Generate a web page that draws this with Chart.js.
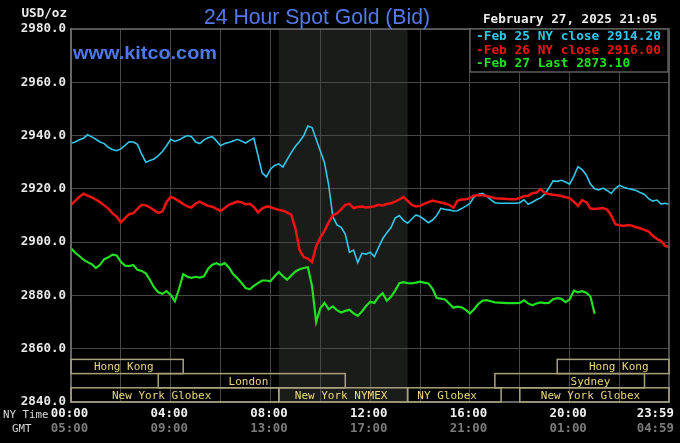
<!DOCTYPE html>
<html>
<head>
<meta charset="utf-8">
<title>24 Hour Spot Gold (Bid)</title>
<script src="https://cdn.jsdelivr.net/npm/chart.js@4/dist/chart.umd.min.js"></script>
<style>
    html, body { margin: 0; padding: 0; background: #000; }
    #chart { display: block; }
</style>
</head>
<body>
<canvas id="chart" width="680" height="443"></canvas>
<script>
// ===============================
// Data (one sample every 10 minutes, NY time)
// ===============================
const feb25 = [
    2937.1, 2937.6, 2938.4, 2939.0, 2940.3, 2939.5, 2938.6, 2937.6, 2937.0, 2935.5,
    2934.8, 2934.3, 2935.0, 2936.3, 2937.7, 2937.6, 2936.7, 2933.0, 2930.0, 2930.6,
    2931.2, 2932.5, 2934.0, 2936.2, 2938.6, 2937.8, 2938.4, 2939.3, 2940.0, 2939.6,
    2937.6, 2937.0, 2938.4, 2939.2, 2939.6, 2938.0, 2936.2, 2937.0, 2937.4, 2938.0,
    2938.6, 2938.0, 2937.2, 2938.2, 2939.0, 2932.5, 2926.0, 2924.5, 2927.4, 2928.8,
    2929.4, 2928.2, 2931.0, 2933.6, 2936.0, 2937.8, 2940.0, 2943.6, 2943.0, 2938.6,
    2934.2, 2929.8, 2921.5, 2909.6, 2906.5, 2905.6, 2903.0, 2896.2, 2897.0, 2892.3,
    2895.8, 2895.5, 2896.2, 2894.6, 2898.0, 2901.3, 2903.5, 2905.5, 2909.0, 2910.0,
    2908.2, 2907.1, 2908.7, 2910.2, 2909.6, 2908.5, 2907.3, 2908.3, 2910.0, 2912.7,
    2912.3, 2912.1, 2911.7, 2911.8, 2912.6, 2913.5, 2914.5, 2917.0, 2917.9, 2918.3,
    2917.4, 2916.0, 2914.8, 2914.6, 2914.6, 2914.6, 2914.6, 2914.6, 2914.8, 2915.9,
    2914.2, 2915.0, 2915.9, 2916.6, 2918.0, 2920.3, 2923.0, 2922.8, 2923.2, 2922.6,
    2921.8, 2924.8, 2928.3, 2927.2, 2925.2, 2921.8, 2920.0, 2919.6, 2920.3, 2919.4,
    2918.3, 2920.2, 2921.3, 2920.6, 2920.1, 2919.8, 2919.4, 2918.6, 2917.9, 2916.3,
    2915.4, 2915.8, 2914.3, 2914.6, 2914.2
];
const feb26 = [
    2914.0, 2915.5, 2917.0, 2918.2, 2917.5, 2916.8, 2916.0, 2915.0, 2913.8, 2912.6,
    2910.8, 2909.6, 2907.4, 2909.0, 2910.5, 2910.9, 2912.5, 2914.0, 2913.8, 2913.0,
    2912.0, 2911.0, 2911.5, 2915.0, 2917.0, 2916.3, 2915.4, 2914.3, 2913.4, 2913.0,
    2914.5, 2915.2, 2914.4, 2913.6, 2913.3, 2912.5, 2911.7, 2912.8, 2914.0, 2914.6,
    2915.2, 2915.0, 2914.2, 2914.4, 2913.2, 2911.2, 2912.6, 2913.4, 2913.2, 2912.6,
    2912.1, 2911.8, 2911.2, 2910.3, 2905.2, 2897.0, 2894.4, 2893.8, 2892.5, 2898.5,
    2901.7, 2904.2, 2907.4, 2910.0, 2910.8, 2912.3, 2914.0, 2914.4, 2912.8, 2913.2,
    2913.4, 2913.0, 2913.2, 2913.5, 2914.0, 2913.8, 2914.3, 2914.6, 2915.2, 2916.0,
    2916.9, 2915.5, 2914.0, 2913.4, 2913.6, 2914.4, 2915.0, 2915.6, 2915.2, 2914.9,
    2914.5, 2914.0, 2912.9, 2915.5, 2916.0, 2916.1, 2916.5, 2917.4, 2917.7, 2917.6,
    2917.3, 2917.0, 2916.5, 2916.4, 2916.3, 2916.2, 2916.1, 2916.1, 2916.6, 2917.2,
    2917.4, 2918.4, 2918.6, 2919.9, 2918.5, 2918.1, 2917.8, 2917.6, 2917.3, 2916.9,
    2916.5, 2915.2, 2913.6, 2915.8, 2915.0, 2912.6, 2912.4, 2912.6, 2912.8, 2912.2,
    2910.0, 2906.7, 2906.3, 2906.1, 2906.4, 2906.2, 2905.6, 2905.2, 2904.6, 2904.0,
    2902.4, 2901.2, 2900.4, 2898.6, 2898.2
];
const feb27 = [
    2897.7, 2896.0, 2894.8, 2893.4, 2892.5, 2891.7, 2890.3, 2891.5, 2893.6, 2894.3,
    2895.3, 2895.0, 2892.6, 2891.2, 2891.0, 2891.4, 2889.6, 2889.2, 2888.3, 2885.8,
    2883.0, 2881.2, 2880.6, 2881.6, 2880.2, 2877.8, 2882.5, 2888.0, 2887.0, 2886.6,
    2887.0, 2886.7, 2887.2, 2890.0, 2891.5, 2892.1, 2891.4, 2892.1, 2890.5, 2888.0,
    2886.5, 2884.8, 2882.8, 2882.3, 2883.6, 2884.6, 2885.6, 2885.6, 2885.3, 2887.2,
    2888.8, 2887.2, 2885.9, 2887.5, 2889.0, 2889.8, 2890.3, 2890.6, 2883.5, 2870.0,
    2875.2, 2877.2, 2874.8, 2875.9, 2874.5, 2873.6, 2874.2, 2874.6, 2873.3, 2872.3,
    2874.0, 2876.0, 2877.6, 2877.2, 2879.5, 2880.8, 2878.0, 2879.5, 2881.8, 2884.6,
    2885.0, 2884.6, 2884.5, 2884.8, 2885.2, 2884.8, 2884.5, 2882.5, 2879.0, 2878.8,
    2878.5, 2877.0, 2875.4, 2875.8, 2875.5, 2874.6, 2873.2, 2874.8, 2876.8, 2878.0,
    2878.2, 2877.8, 2877.4, 2877.3, 2877.2, 2877.1, 2877.1, 2877.1, 2877.2, 2878.2,
    2877.0, 2876.3, 2877.0, 2877.4, 2877.1, 2877.2, 2878.6, 2879.0, 2878.7, 2877.5,
    2878.5, 2881.8, 2881.2, 2881.6, 2881.0, 2879.6, 2873.1
];
// sample times in minutes after midnight NY, last one is 23:59
const times = feb25.map((_, i) => Math.min(i * 10, 1439));

const legendLabels = ['-Feb 25 NY close 2914.20', '-Feb 26 NY close 2916.00', '-Feb 27 Last 2873.10'];
const seriesColors = ['#33c6ea', '#ee1414', '#22e022'];

const yTicks = [2840, 2860, 2880, 2900, 2920, 2940, 2960, 2980];
const gridMinutes = [0, 120, 240, 360, 480, 600, 720, 840, 960, 1080, 1200, 1320];
const labelMinutes = [0, 240, 480, 720, 960, 1200, 1439];
const nyLabels = ['00:00', '04:00', '08:00', '12:00', '16:00', '20:00', '23:59'];
const gmtLabels = ['05:00', '09:00', '13:00', '17:00', '21:00', '01:00', '04:59'];

// trading sessions: row 0 = top band, row 2 = bottom band
const sessionNames = ['Hong Kong', 'Hong Kong', 'London', 'Sydney', 'New York Globex', 'New York NYMEX', 'NY Globex', 'New York Globex'];
const sessionStart = [0, 1170, 210, 1020, 0, 500, 810, 1080];
const sessionEnd = [270, 1439, 660, 1380, 500, 810, 1035, 1439];
const sessionRow = [0, 0, 1, 1, 2, 2, 2, 2];
const sessionTextAt = [127, 1318, 427, 1250, 218, 650, 905, 1250];

const MONO = '"DejaVu Sans Mono", monospace';
const SANS = '"Liberation Sans", Arial, sans-serif';

// texto ajustado al ancho medido en la imagen original
function fitText(ctx, text, left, baseline, width, font, color) {
    ctx.font = font;
    const w = ctx.measureText(text).width;
    ctx.save();
    ctx.translate(left, baseline);
    ctx.scale(width / w, 1);
    ctx.fillStyle = color;
    ctx.textAlign = 'left';
    ctx.textBaseline = 'alphabetic';
    ctx.fillText(text, 0, 0);
    ctx.restore();
}

const kitcoDecor = {
    id: 'kitcoDecor',
    beforeDraw(chart) {
        const { ctx, chartArea: a, scales: { x } } = chart;
        ctx.save();
        ctx.fillStyle = '#000';
        ctx.fillRect(0, 0, chart.width, chart.height);
        // NYMEX floor hours shading
        const i = sessionNames.indexOf('New York NYMEX');
        const x0 = x.getPixelForValue(sessionStart[i]);
        const x1 = x.getPixelForValue(sessionEnd[i]);
        ctx.fillStyle = '#1a1c1a';
        ctx.fillRect(x0, a.top, x1 - x0, a.bottom - a.top);
        ctx.restore();
    },
    afterDraw(chart) {
        const { ctx, chartArea: a, scales: { x } } = chart;
        ctx.save();

        // right/top frame
        ctx.strokeStyle = '#6a6a6a';
        ctx.lineWidth = 1.5;
        ctx.strokeRect(a.left, a.top, a.right - a.left, a.bottom - a.top);

        // session bands
        const rowH = 14.2;
        ctx.font = '11px ' + MONO;
        ctx.textAlign = 'center';
        ctx.textBaseline = 'middle';
        sessionNames.forEach((name, k) => {
            const top = a.bottom - rowH * (3 - sessionRow[k]);
            const sx0 = x.getPixelForValue(sessionStart[k]);
            const sx1 = x.getPixelForValue(sessionEnd[k]);
            ctx.strokeStyle = '#a8a27a';
            ctx.lineWidth = 1.5;
            ctx.strokeRect(sx0, top, sx1 - sx0, rowH);
            ctx.fillStyle = '#ecd67e';
            ctx.fillText(name, x.getPixelForValue(sessionTextAt[k]), top + rowH / 2 + 1);
        });

        // legend box
        ctx.fillStyle = '#000';
        ctx.fillRect(470, 29, 198, 43);
        ctx.strokeStyle = '#5c5c5c';
        ctx.lineWidth = 1.5;
        ctx.strokeRect(470, 29, 198, 43);
        ctx.font = 'bold 12.8px ' + MONO;
        ctx.textAlign = 'left';
        ctx.textBaseline = 'middle';
        legendLabels.forEach((t, k) => {
            ctx.fillStyle = seriesColors[k];
            ctx.fillText(t, 476, 37 + k * 13.5);
        });

        // headers
        fitText(ctx, '24 Hour Spot Gold (Bid)', 204, 24, 226, '22px ' + SANS, '#5479e8');
        fitText(ctx, 'www.kitco.com', 73, 59, 144, 'bold 18px ' + SANS, '#4f79ea');
        ctx.font = 'bold 12.6px ' + MONO;
        ctx.fillStyle = '#ececec';
        ctx.textAlign = 'left';
        ctx.fillText('February 27, 2025 21:05', 483, 20);
        ctx.textAlign = 'right';
        ctx.fillText('USD/oz', 67, 14);

        // time axis, two rows
        ctx.font = '10.8px ' + MONO;
        ctx.fillStyle = '#d8d8d8';
        ctx.textAlign = 'left';
        ctx.fillText('NY Time', 3, 415);
        ctx.fillText('GMT', 12, 429);
        ctx.textAlign = 'center';
        ctx.font = 'bold 12.4px ' + MONO;
        labelMinutes.forEach((m, k) => {
            const w = ctx.measureText(nyLabels[k]).width;
            const px = Math.min(x.getPixelForValue(m) - 1.5, 674 - w / 2);
            ctx.fillStyle = '#f2f2f2';
            ctx.fillText(nyLabels[k], px, 413.5);
            ctx.fillStyle = '#7c7c7c';
            ctx.fillText(gmtLabels[k], px, 429);
        });
        ctx.restore();
    }
};

const makeSet = (values, color, width) => ({
    data: times.map((t, i) => ({ x: t, y: values[i] ?? null })),
    borderColor: color,
    borderWidth: width,
    pointRadius: 0,
    tension: 0,
    spanGaps: false,
    fill: false
});

new Chart(document.getElementById('chart'), {
    type: 'line',
    data: {
        datasets: [
            makeSet(feb27, seriesColors[2], 2.2),
            makeSet(feb26, seriesColors[1], 2.5),
            makeSet(feb25, seriesColors[0], 1.6)
        ]
    },
    options: {
        responsive: false,
        animation: false,
        events: [],
        layout: { padding: { top: 29, right: 11, bottom: 0, left: 0 } },
        plugins: { legend: { display: false }, tooltip: { enabled: false } },
        scales: {
            x: {
                type: 'linear',
                min: 0,
                max: 1439,
                grid: { color: '#474747', lineWidth: 1, drawTicks: false },
                border: { color: '#6a6a6a', width: 1.5 },
                ticks: { display: false },
                afterBuildTicks: s => { s.ticks = gridMinutes.map(v => ({ value: v })); },
                afterFit: s => { s.height = 41; }
            },
            y: {
                min: yTicks[0],
                max: yTicks[yTicks.length - 1],
                grid: { color: '#474747', lineWidth: 1, drawTicks: false },
                border: { color: '#6a6a6a', width: 1.5 },
                afterBuildTicks: s => { s.ticks = yTicks.map(v => ({ value: v })); },
                ticks: {
                    color: '#e8e8e8',
                    padding: 5,
                    font: { family: MONO, size: 12.5, weight: 'bold' },
                    callback: v => Number(v).toFixed(1)
                },
                afterFit: s => { s.width = 71; }
            }
        }
    },
    plugins: [kitcoDecor]
});
</script>
</body>
</html>
